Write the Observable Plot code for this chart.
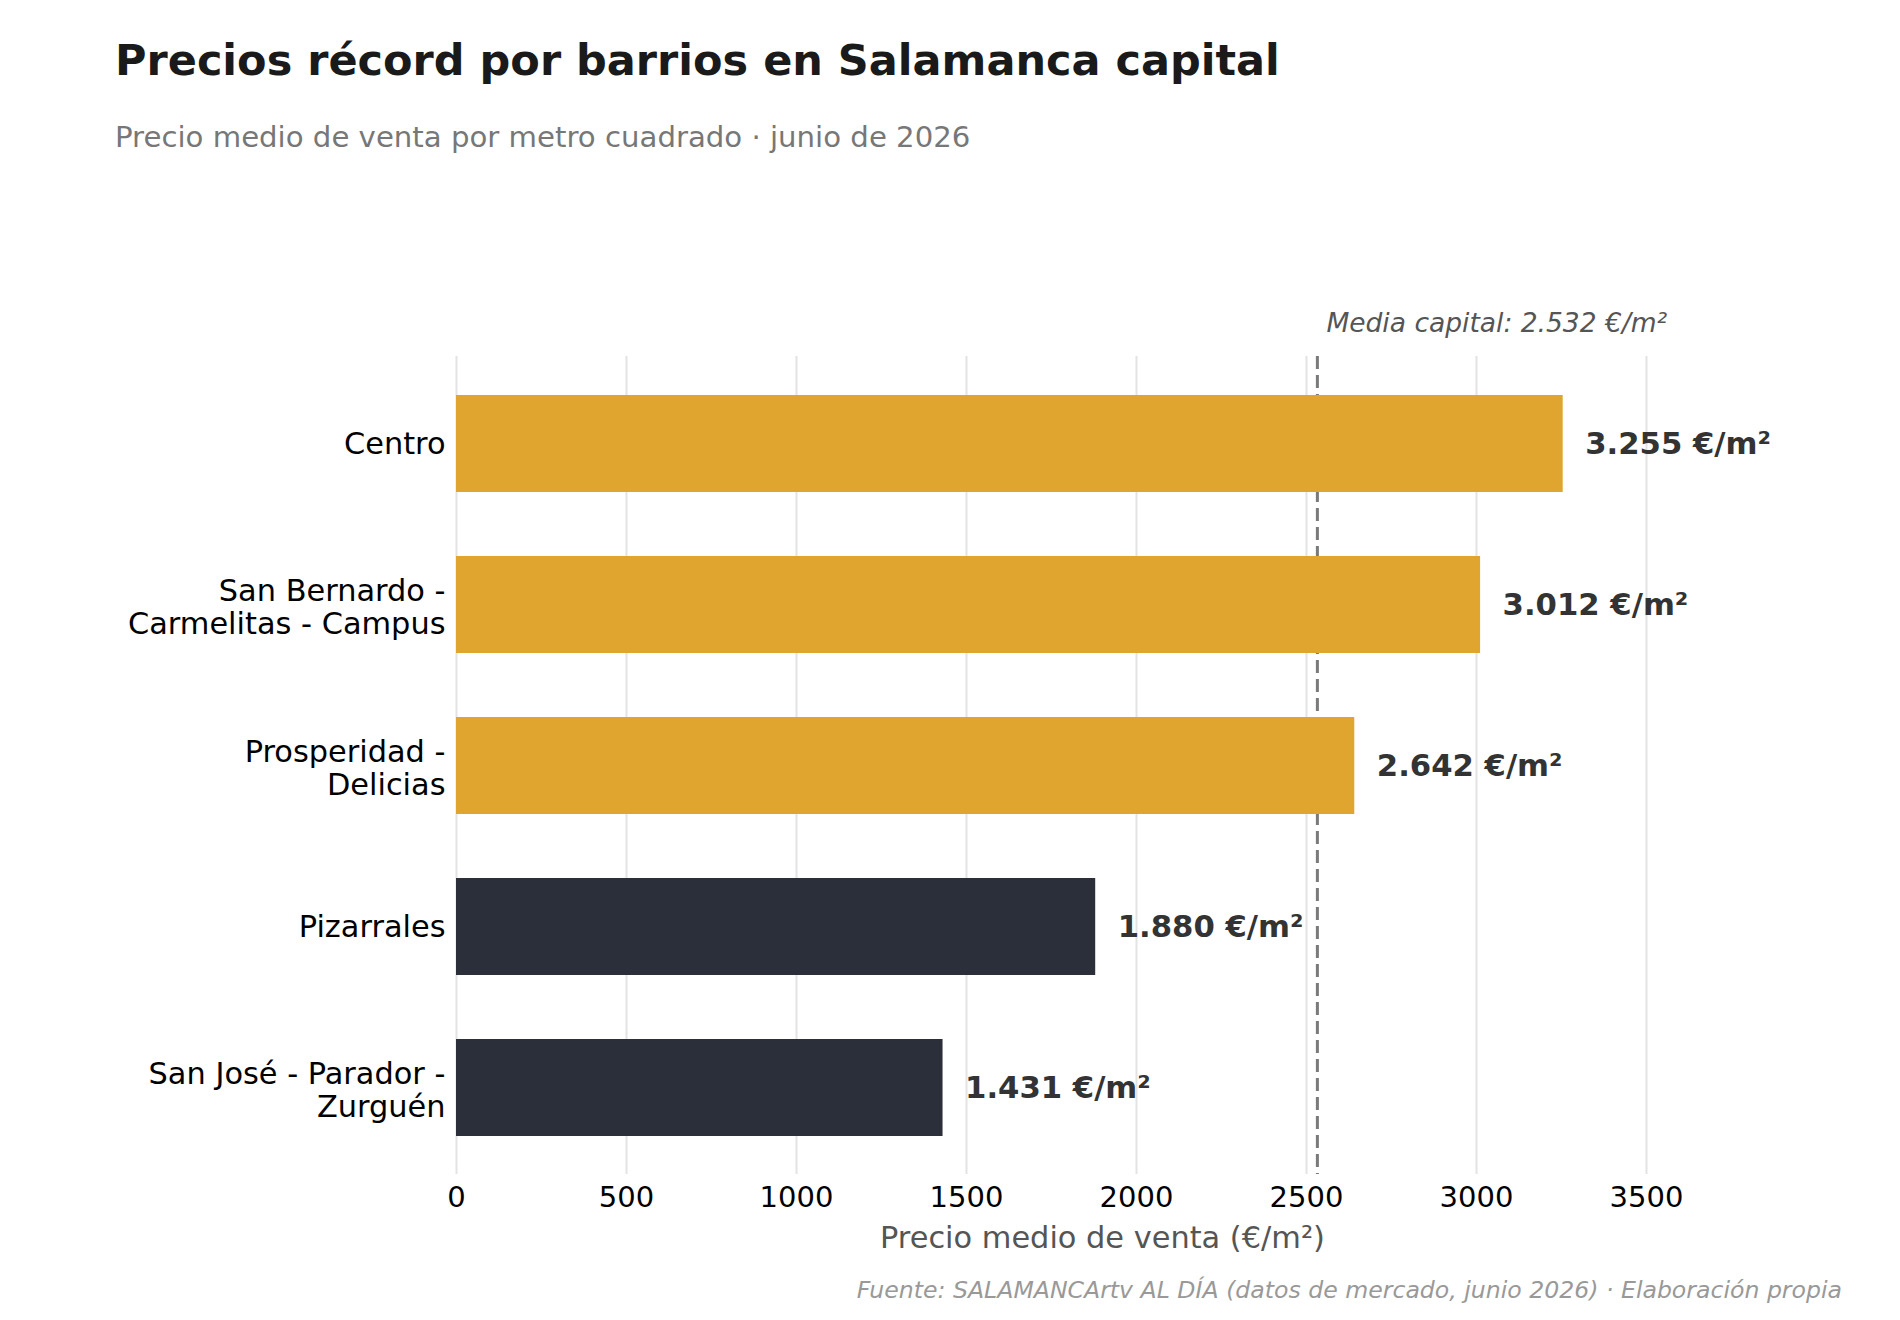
<!DOCTYPE html>
<html>
<head>
<meta charset="utf-8">
<script src="https://cdn.jsdelivr.net/npm/d3@7"></script>
<script src="https://cdn.jsdelivr.net/npm/@observablehq/plot@0.6"></script>
<style>
  html, body { margin: 0; padding: 0; background: #ffffff; }
  body { font-family: "DejaVu Sans", sans-serif; }
  #wrap { position: relative; width: 1900px; height: 1320px; overflow: hidden; }
  .t { position: absolute; line-height: 1; white-space: nowrap; margin: 0; }
  #title { left: 115px; top: 39px; font-size: 43px; font-weight: bold; color: #1a1a1a; }
  #subtitle { left: 115px; top: 123px; font-size: 29.2px; color: #777777; }
  #chart { position: absolute; left: 0; top: 200px; }
  #caption { right: 58px; top: 1279px; font-size: 23.6px; font-style: italic; color: #999999; }
</style>
</head>
<body>
<div id="wrap">
  <div id="title" class="t">Precios récord por barrios en Salamanca capital</div>
  <div id="subtitle" class="t">Precio medio de venta por metro cuadrado · junio de 2026</div>
  <div id="chart"></div>
  <div id="caption" class="t">Fuente: SALAMANCArtv AL DÍA (datos de mercado, junio 2026) · Elaboración propia</div>
</div>
<script>
// ---- data ----
const barrios = [
  "Centro",
  "San Bernardo -\nCarmelitas - Campus",
  "Prosperidad -\nDelicias",
  "Pizarrales",
  "San José - Parador -\nZurguén"
];
const precios = [3255, 3012, 2642, 1880, 1431];
const mediaCapital = 2532;
const xTicks = [0, 500, 1000, 1500, 2000, 2500, 3000, 3500];
const xLabel = "Precio medio de venta (€/m²)";

// ---- helpers ----
const gold = "#E0A52E";
const dark = "#2B2F3A";
const fmt = v => d3.format(",")(v).replace(/,/g, ".");
const data = barrios.map((b, i) => ({barrio: b, precio: precios[i]}));

const chart = Plot.plot({
  width: 1900,
  height: 1070,
  marginLeft: 456,
  marginRight: 152,
  marginTop: 156,
  marginBottom: 96,
  style: {fontFamily: "DejaVu Sans", background: "white", overflow: "visible"},
  x: {domain: [0, 3800], axis: null},
  y: {domain: barrios, paddingInner: 0.4, paddingOuter: 0.24, axis: null},
  color: {type: "identity"},
  marks: [
    Plot.ruleX(xTicks, {stroke: "#e3e3e3", strokeWidth: 2}),
    Plot.ruleX([mediaCapital], {stroke: "#7a7a7a", strokeWidth: 3, strokeDasharray: "13,6"}),
    Plot.barX(data, {
      x: "precio",
      y: "barrio",
      fill: d => d.precio > mediaCapital ? gold : dark
    }),
    Plot.text(data, {
      x: "precio",
      y: "barrio",
      text: d => fmt(d.precio) + " €/m²",
      textAnchor: "start",
      dx: 22,
      fontWeight: "bold",
      fontSize: 30.7,
      fill: "#333333"
    }),
    // category labels (single-line)
    Plot.text(data, {
      filter: d => !d.barrio.includes("\n"),
      y: "barrio",
      text: "barrio",
      frameAnchor: "left",
      textAnchor: "end",
      dx: -11,
      fontSize: 30.4,
      fill: "#000000"
    }),
    // category labels (two-line)
    Plot.text(data, {
      filter: d => d.barrio.includes("\n"),
      y: "barrio",
      text: "barrio",
      frameAnchor: "left",
      textAnchor: "end",
      dx: -11,
      dy: 2,
      lineHeight: 1.08,
      fontSize: 30.4,
      fill: "#000000"
    }),
    Plot.axisX(xTicks, {
      tickSize: 0,
      tickPadding: 12,
      fontSize: 29,
      color: "#000000",
      tickFormat: d => String(d),
      label: null
    }),
    Plot.text([xLabel], {
      frameAnchor: "bottom",
      lineAnchor: "bottom",
      dy: 73,
      fontSize: 30.4,
      fill: "#555555"
    }),
    Plot.text([mediaCapital], {
      x: d => d,
      frameAnchor: "top",
      lineAnchor: "bottom",
      textAnchor: "start",
      text: d => "Media capital: " + fmt(d) + " €/m²",
      dx: 9,
      dy: -25,
      fontSize: 26.5,
      fontStyle: "italic",
      fill: "#555555"
    })
  ]
});
document.getElementById("chart").appendChild(chart);
</script>
</body>
</html>
